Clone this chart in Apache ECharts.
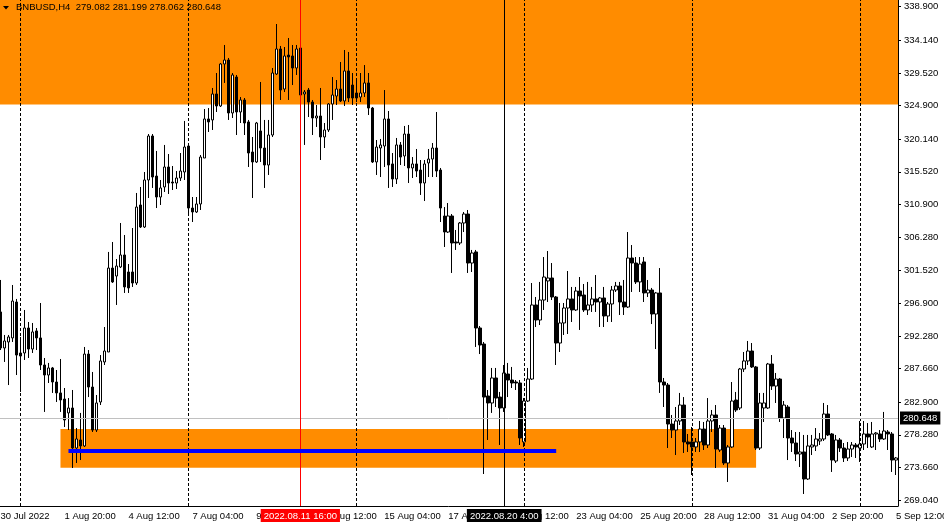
<!DOCTYPE html>
<html><head><meta charset="utf-8">
<script src="https://cdn.jsdelivr.net/npm/echarts@6/dist/echarts.min.js"></script>
<style>html,body{margin:0;padding:0;background:#fff}#c{width:944px;height:526px}</style>
</head><body><div id="c"></div>
<script>
// ---- data (BNBUSD, H4) ----
const opens = [295.67,290.57,291.42,291.99,297.08,289.43,289.86,293.40,290.42,292.98,
291.99,288.16,286.74,287.74,285.75,284.20,283.34,281.37,282.07,276.40,
277.54,276.69,289.71,285.04,278.95,282.92,288.59,290.00,301.89,300.76,
302.04,303.74,301.33,301.33,299.77,310.82,307.70,314.36,320.59,314.92,
311.95,313.37,316.20,314.07,313.93,314.64,315.49,319.17,310.39,309.83,
310.96,317.47,323.00,322.86,326.54,324.84,330.79,331.35,323.85,328.94,
323.99,325.69,322.58,318.32,316.91,321.30,318.89,316.48,320.73,329.37,
332.91,327.24,332.06,331.92,330.22,333.05,326.54,327.10,325.40,323.14,
323.42,320.45,321.44,325.12,326.25,327.24,325.55,329.80,327.81,326.68,
326.11,326.68,328.10,324.55,316.91,318.89,319.17,323.00,316.63,314.50,
319.32,317.76,320.87,316.06,316.63,315.77,313.93,316.77,317.33,318.89,
315.77,309.26,306.99,309.26,305.58,305.44,308.27,309.54,302.60,304.17,
293.40,291.13,283.77,282.78,286.32,283.62,282.07,286.88,286.03,285.75,
285.61,277.26,283.06,286.17,296.66,294.53,297.36,300.06,300.48,297.79,
291.27,294.11,296.23,297.51,295.95,298.64,298.07,295.95,296.66,297.51,
297.08,297.65,295.10,296.80,298.78,299.35,297.08,296.37,303.31,302.60,
299.92,302.75,298.36,298.78,295.38,298.36,285.75,285.32,279.80,278.95,
280.23,282.49,277.26,277.26,276.55,277.26,279.09,276.83,280.23,281.08,
276.12,279.23,274.28,276.55,283.20,282.07,287.59,288.73,290.14,287.88,
276.40,282.07,282.07,288.30,285.18,286.17,280.65,282.21,277.82,277.11,
275.55,275.84,272.01,276.55,276.69,277.40,277.68,281.22,278.39,274.56,
277.54,276.40,274.99,276.26,276.83,276.40,276.97,278.39,276.55,278.39,
278.39,277.68,278.67,278.39,274.70];
const closes = [290.57,291.56,292.13,297.22,289.57,289.86,293.40,290.42,292.84,291.99,
288.16,286.74,287.74,285.75,284.20,283.20,280.37,282.07,276.40,277.68,
276.69,289.71,285.04,278.95,282.78,288.73,290.14,301.89,299.92,302.18,
303.74,299.21,299.07,299.77,310.53,307.70,314.36,320.59,314.78,311.95,
313.23,316.20,313.93,313.93,314.64,315.63,319.03,310.39,309.83,310.96,
317.61,323.00,322.58,326.54,324.84,330.79,331.35,323.85,329.23,323.99,
325.69,322.43,318.18,316.91,322.43,318.89,316.48,320.73,329.51,332.91,
327.10,331.92,331.78,330.22,332.91,326.40,326.82,325.40,323.14,323.42,
320.45,321.44,325.12,326.40,327.24,325.55,329.80,325.97,325.97,325.97,
326.68,328.10,324.55,316.91,319.03,319.32,323.00,316.48,314.50,319.32,
317.61,320.87,316.06,316.63,315.63,313.93,316.63,317.33,318.89,315.63,
310.39,306.99,309.26,305.44,305.44,308.27,309.54,302.60,304.02,293.40,
290.99,283.62,282.78,286.32,283.48,282.07,287.03,286.03,285.61,285.61,
277.82,283.06,286.17,296.66,294.53,297.36,300.62,300.48,297.79,291.27,
294.11,296.23,297.51,295.95,298.64,297.93,295.95,296.66,297.51,297.08,
297.65,295.10,296.80,298.78,299.35,297.08,296.37,303.31,302.60,299.92,
302.46,298.36,298.78,295.38,298.36,285.75,285.32,279.80,278.95,280.23,
282.49,277.26,276.97,276.55,277.26,279.09,276.83,280.23,281.08,276.26,
279.23,274.28,276.55,283.06,281.79,287.59,288.73,290.14,287.88,276.40,
282.78,282.78,288.30,285.18,286.17,280.65,282.49,277.82,277.11,275.55,
275.84,272.01,276.69,276.83,277.68,277.68,281.22,278.25,274.70,277.54,
276.40,274.99,276.26,276.83,276.55,276.97,278.39,277.96,278.39,278.53,
277.68,278.81,278.39,274.70,274.99];
const lows = [290.28,288.59,285.32,291.42,286.74,284.34,288.87,289.15,289.86,290.28,
287.45,281.51,285.61,284.20,282.92,281.51,279.38,278.95,273.57,274.28,
274.70,276.55,283.62,278.67,278.67,282.49,288.16,290.00,299.78,296.66,
301.89,298.36,298.36,299.21,299.49,307.56,307.56,311.81,313.23,310.39,
310.82,312.66,312.38,312.94,313.08,314.22,314.36,309.26,308.41,309.69,
310.11,317.47,321.16,321.44,323.99,324.70,328.10,322.86,323.14,320.73,
322.43,320.73,316.20,311.81,316.77,316.91,313.23,315.07,320.45,329.23,
325.69,326.82,325.69,327.81,329.23,326.11,319.32,323.28,320.73,321.87,
317.19,318.89,321.16,322.86,324.98,325.40,324.84,325.40,324.98,325.40,
325.40,326.11,323.56,316.77,315.07,314.78,316.20,313.23,313.37,313.79,
316.48,316.34,313.93,314.64,314.78,312.24,311.38,314.78,314.78,314.78,
308.41,304.87,306.85,301.19,304.45,305.15,306.99,301.19,301.33,290.71,
289.71,272.72,277.54,281.37,282.21,276.83,281.51,283.62,284.90,284.62,
276.83,276.55,282.92,286.03,293.54,293.82,295.95,297.08,297.36,288.16,
290.00,292.41,292.55,294.25,295.81,293.12,295.67,295.24,295.67,295.67,
293.54,293.54,294.25,294.25,298.50,295.24,295.24,296.23,298.50,299.63,
298.50,297.08,297.79,293.96,290.42,284.20,282.21,276.40,277.82,275.41,
279.66,275.70,275.84,272.58,275.84,275.84,276.12,276.40,278.67,273.57,
275.84,274.00,271.59,276.40,281.51,281.79,287.17,288.16,287.74,276.12,
276.12,280.09,281.93,284.62,282.78,280.09,277.82,274.70,275.84,274.56,
273.71,269.89,271.87,275.41,275.98,276.83,277.40,278.10,273.01,274.28,
275.84,274.42,274.56,275.13,274.99,274.42,276.12,276.40,276.40,276.12,
277.26,277.54,276.12,273.01,272.58];
const highs = [300.20,292.41,292.41,299.49,297.51,292.13,295.95,294.25,294.11,293.40,
296.94,289.15,288.45,287.88,287.45,289.01,284.90,283.48,284.62,279.23,
281.37,290.71,290.28,287.17,283.91,289.57,293.54,304.17,305.58,303.17,
308.27,306.57,302.46,307.56,312.52,313.37,315.49,320.87,320.87,318.47,
314.36,319.32,318.04,316.34,315.63,318.18,322.72,319.60,311.95,311.95,
317.90,324.41,324.55,327.39,329.51,330.93,333.48,331.64,329.51,329.23,
326.11,325.97,322.86,320.45,322.58,328.24,322.86,322.86,330.22,336.45,
333.34,333.19,334.47,333.48,333.48,333.48,327.10,327.39,325.69,324.98,
327.39,322.43,325.26,328.94,328.52,331.07,332.77,332.49,329.51,328.52,
329.51,330.64,329.51,324.70,320.02,320.17,327.10,324.13,318.18,320.31,
319.74,322.01,322.15,317.61,318.75,317.19,317.19,318.75,319.60,323.99,
316.06,310.53,311.10,309.54,307.28,308.41,309.83,310.11,304.45,304.45,
293.68,291.42,284.62,287.74,287.74,284.34,288.16,288.45,287.88,286.03,
286.03,283.48,287.74,299.77,297.79,299.92,303.45,304.30,302.60,297.93,
296.94,296.94,301.47,299.21,299.21,300.62,299.63,299.92,299.21,300.90,
297.79,299.21,297.08,299.35,299.92,299.92,300.20,306.99,305.15,303.45,
303.45,303.45,300.20,299.07,298.50,301.89,286.32,285.61,281.08,282.21,
284.20,283.62,278.39,279.38,277.82,280.23,280.09,283.48,281.79,282.49,
279.66,279.66,276.83,285.75,284.34,287.74,290.00,291.56,291.27,288.02,
284.20,284.20,288.45,289.57,287.03,286.32,283.06,282.49,278.95,278.67,
278.67,278.25,278.25,278.25,279.23,278.53,282.78,282.49,278.53,278.25,
277.82,277.11,277.25,277.25,277.11,280.23,280.23,279.94,280.09,278.67,
278.95,281.51,278.95,278.67,275.13];
const firstBarTime = '2022-07-30T04:00:00Z';   // H4 bars
const timeTickLabels = ['30 Jul 2022','1 Aug 20:00','4 Aug 12:00','7 Aug 04:00','9 Aug 20:00',
  '12 Aug 12:00','15 Aug 04:00','17 Aug 20:00','20 Aug 12:00','23 Aug 04:00','25 Aug 20:00',
  '28 Aug 12:00','31 Aug 04:00','2 Sep 20:00','5 Sep 12:00'];
const priceTickLabels = [338.900,334.140,329.520,324.900,320.140,315.520,310.900,306.280,
  301.520,296.900,292.280,287.660,282.900,278.280,273.660,269.040];
const titleText = 'BNBUSD,H4  279.082 281.199 278.062 280.648';
const bidPrice = 280.648;
const resistanceZone = [325.05, 339.85];
const supportZone = [273.62, 279.09];
const supportZoneTimes = ['2022.08.01 16:00', '2022.08.30 16:00'];
const trendLevel = 276.08;
const trendTimes = ['2022.08.02 00:00', '2022.08.22 08:00'];
const redLineTime = '2022.08.11 16:00';
const blackLineTime = '2022.08.20 04:00';
const blackLineLabel = '2022.08.20 4:00';
const priceMin = 268.19, priceMax = 339.85;

// ---- build ----
const pad = n => String(n).padStart(2, '0');
const t0 = Date.parse(firstBarTime);
const barDates = opens.map((_, i) => new Date(t0 + i * 4 * 3600e3));
const categories = barDates.map(d => `${d.getUTCFullYear()}.${pad(d.getUTCMonth()+1)}.${pad(d.getUTCDate())} ${pad(d.getUTCHours())}:00`);
const separators = categories.filter((c, i) => barDates[i].getUTCDay() === 0 && barDates[i].getUTCHours() === 0);
const candleData = opens.map((o, i) => [o, closes[i], lows[i], highs[i]]);

const FONT = '"Liberation Sans", Arial, sans-serif';
const chart = echarts.init(document.getElementById('c'));
chart.setOption({
  animation: false,
  backgroundColor: '#ffffff',
  textStyle: { fontFamily: FONT },
  grid: { left: -1.5, right: 46, top: 0, bottom: 20, containLabel: false, outerBoundsMode: 'none' },
  xAxis: {
    type: 'category', data: categories, boundaryGap: true,
    axisLine: { show: true, lineStyle: { color: '#000', width: 1 } },
    axisTick: { show: false },
    splitLine: { show: false },
    axisLabel: {
      interval: i => i % 16 === 0,
      formatter: (v, i) => (i % 16 === 0 ? timeTickLabels[i / 16] : ''),
      align: 'left', color: '#000', fontSize: 9.5, margin: 5, fontFamily: FONT
    }
  },
  yAxis: {
    type: 'value', position: 'right', min: priceMin, max: priceMax, scale: true,
    axisLine: { show: true, lineStyle: { color: '#000', width: 1 } },
    axisTick: { show: true, length: 3, customValues: priceTickLabels, lineStyle: { color: '#000' } },
    splitLine: { show: false },
    axisLabel: { customValues: priceTickLabels, formatter: v => v.toFixed(3), color: '#000', fontSize: 9.5, margin: 6, fontFamily: FONT }
  },
  graphic: [
    { type: 'polygon', shape: { points: [[3, 6], [9, 6], [6, 9.5]] }, style: { fill: '#000' }, z: 100 },
    { type: 'text', left: 16, top: 2, z: 100, style: { text: titleText, font: '9.5px ' + FONT, fill: '#000' } }
  ],
  series: [
    {
      type: 'line', data: [], z: 1, silent: true,
      markArea: {
        silent: true, itemStyle: { color: '#FF8C00' },
        data: [
          [{ yAxis: resistanceZone[0] }, { yAxis: resistanceZone[1] }],
          [{ xAxis: supportZoneTimes[0], yAxis: supportZone[1] }, { xAxis: supportZoneTimes[1], yAxis: supportZone[0] }]
        ]
      }
    },
    {
      type: 'line', data: [], z: 2, silent: true,
      markLine: {
        silent: true, symbol: ['none', 'none'], label: { show: false },
        data: separators.map(s => ({ xAxis: s, lineStyle: { type: [3, 2], color: '#000', width: 1 } })).concat([
          { yAxis: bidPrice, lineStyle: { type: 'solid', color: '#c0c0c0', width: 1 },
            label: { show: true, position: 'end', formatter: bidPrice.toFixed(3), backgroundColor: '#000', color: '#fff',
                     padding: [2, 3, 1, 3], distance: 2, fontSize: 9.5, fontFamily: FONT } }
        ])
      }
    },
    {
      type: 'candlestick', name: 'BNBUSD', z: 3, data: candleData, barWidth: 3,
      itemStyle: { color: '#ffffff', color0: '#000000', borderColor: '#000000', borderColor0: '#000000', borderWidth: 1 }
    },
    {
      type: 'line', data: [], z: 4, silent: true,
      markLine: {
        silent: true, symbol: ['none', 'none'], label: { show: false },
        data: [
          { xAxis: redLineTime, lineStyle: { type: 'solid', color: '#ff0000', width: 1 },
            label: { show: true, position: 'start', formatter: redLineTime, backgroundColor: '#ff0000', color: '#fff',
                     padding: [2, 3, 1, 3], distance: 3, fontSize: 9.5, fontFamily: FONT } },
          { xAxis: blackLineTime, lineStyle: { type: 'solid', color: '#000', width: 1 },
            label: { show: true, position: 'start', formatter: blackLineLabel, backgroundColor: '#000', color: '#fff',
                     padding: [2, 3, 1, 3], distance: 3, fontSize: 9.5, fontFamily: FONT } },
          [{ coord: [trendTimes[0], trendLevel], lineStyle: { type: 'solid', color: '#0000ff', width: 4 } },
           { coord: [trendTimes[1], trendLevel] }]
        ]
      }
    }
  ]
});
</script>
</body></html>
